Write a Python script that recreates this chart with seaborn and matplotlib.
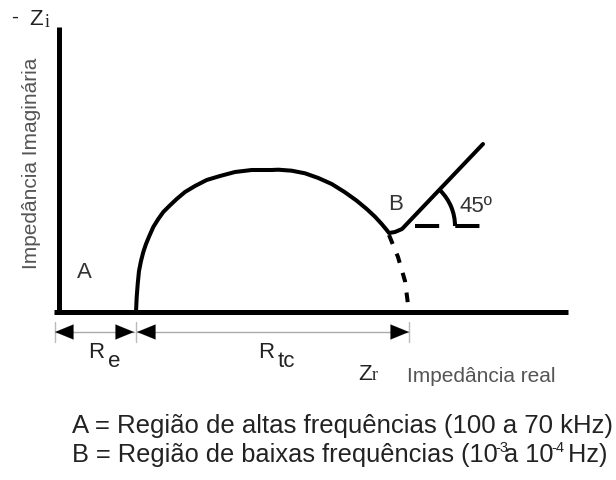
import matplotlib
matplotlib.use("Agg")
import matplotlib.pyplot as plt
from matplotlib.patches import Arc
import pandas as pd
import seaborn as sns

# Nyquist diagram points (origin at the axes corner)
arc_x = [77, 77.7, 78.7, 80, 82, 84.3, 87, 90.3, 94.3, 99.3, 104.3, 110.3, 117.7, 126,
         136, 147.7, 161, 176, 192.7, 212.7, 219.3, 232.7, 246, 259.3, 272.7, 286,
         297.7, 307.7, 316, 322.7, 327.7, 330]
arc_y = [0, 15, 28, 41, 51, 60, 68, 76, 85, 93, 100, 106, 113, 120,
         126, 132, 136, 140, 142, 142, 142.3, 141.3, 138.7, 134, 128, 119.7,
         111.3, 103, 95.3, 88, 82, 79]
tail_x = [330, 336, 343, 424]     # region B, 45 degree line
tail_y = [79, 80, 83, 168]
dash_x = [330, 339, 346, 350]     # dashed end of the semicircle
dash_y = [77, 55, 31, 0]
ref_x = [356, 423]                # dashed horizontal reference at B
ref_y = [86, 86]

Re = 77
Rtc_end = 350
line_a = "A = Região de altas frequências (100 a 70 kHz)"
line_b = ["B = Região de baixas frequências (10", "a 10", " Hz)"]
line_b_sup = ["-3", "-4"]

sns.set_theme(style="white")
plt.rcParams["font.family"] = ["Liberation Sans", "DejaVu Sans"]

fig = plt.figure(figsize=(6.16, 4.81), dpi=100)
ax = fig.add_axes([0, 0, 1, 1])
ax.set_xlim(-59, 557)
ax.set_ylim(-168, 313)
ax.axis("off")

df = pd.DataFrame({"x": arc_x + tail_x[1:], "y": arc_y + tail_y[1:]})
sns.lineplot(data=df, x="x", y="y", sort=False, color="black", lw=2.9, ax=ax,
             solid_joinstyle="round", solid_capstyle="round")
sns.lineplot(x=dash_x, y=dash_y, sort=False, color="black", lw=2.9, ax=ax,
             dashes=False).lines[-1].set_dashes([2.4, 2.6])
ax.plot(ref_x, ref_y, color="black", lw=2.9, dashes=[6, 4])
ax.add_patch(Arc((346, 86), 100, 100, theta1=0, theta2=45, color="black", lw=2.9))

# axes of the diagram
ax.plot([0, 0], [0, 285], color="black", lw=3.6, solid_capstyle="butt")
ax.plot([-5, 509], [0, 0], color="black", lw=3.6, solid_capstyle="butt")

# dimension lines
dim_y = -20
for a, b in [(-4, Re - 2), (Re + 1, Rtc_end)]:
    ax.plot([a, b], [dim_y, dim_y], color="#aaaaaa", lw=1)
    for tip, frm in [(a, a + 1), (b, b - 1)]:
        ax.annotate("", xy=(tip, dim_y), xytext=(frm, dim_y),
                    arrowprops=dict(arrowstyle="-|>,head_length=1.1,head_width=0.45",
                                    color="black", lw=0.1, shrinkA=0, shrinkB=0))
for t in [-4, Re, Rtc_end]:
    ax.plot([t, t], [-10, -30], color="#bbbbbb", lw=1)

gray = "#555555"
dark = "#222222"
ax.text(-44, 296, "-", fontsize=15, color=dark, ha="center", va="center")
ax.text(-30, 288, "Z", fontsize=16, color=dark, va="baseline")
ax.text(-14, 286, "i", fontsize=13, color=dark, va="baseline", family="Liberation Serif")
ax.text(-27.5, 150, "Impedância Imaginária", fontsize=15, color=gray, rotation=90,
        ha="center", va="center")
ax.text(18, 35, "A", fontsize=16, color="#333333", va="baseline")
ax.text(329, 103, "B", fontsize=16, color="#333333", va="baseline")
ax.text(401, 101, "45º", fontsize=16, color="#333333", va="baseline")
ax.text(29, -45, "R", fontsize=16, color=dark, va="baseline")
ax.text(49, -54, "e", fontsize=16, color=dark, va="baseline")
ax.text(199, -45, "R", fontsize=16, color=dark, va="baseline")
ax.text(219, -54, "tc", fontsize=16, color=dark, va="baseline")
ax.text(299, -67, "Z", fontsize=16, color=dark, va="baseline")
ax.text(313, -67, "r", fontsize=13, color=dark, va="baseline", family="Liberation Serif")
ax.text(348, -69, "Impedância real", fontsize=15, color=gray, va="baseline")

ax.text(13, -120, line_a, fontsize=18.5, color=dark, va="baseline")
t1 = ax.text(13, -149, line_b[0], fontsize=18.3, color=dark, va="baseline")
s1 = ax.annotate(line_b_sup[0], xy=(1, 1), xycoords=t1, xytext=(-2, 1.5),
                 textcoords="offset points", fontsize=10.5, color=dark, va="top")
t2 = ax.annotate(line_b[1], xy=(1, 0), xycoords=(s1, t1), xytext=(-2.5, 0),
                 textcoords="offset points", fontsize=18.3, color=dark, va="bottom")
s2 = ax.annotate(line_b_sup[1], xy=(1, 1), xycoords=t2, xytext=(-2, 1.5),
                 textcoords="offset points", fontsize=10.5, color=dark, va="top")
ax.annotate(line_b[2], xy=(1, 0), xycoords=(s2, t1), xytext=(-2.5, 0),
            textcoords="offset points", fontsize=18.3, color=dark, va="bottom")

fig.savefig("out.png", dpi=100)
